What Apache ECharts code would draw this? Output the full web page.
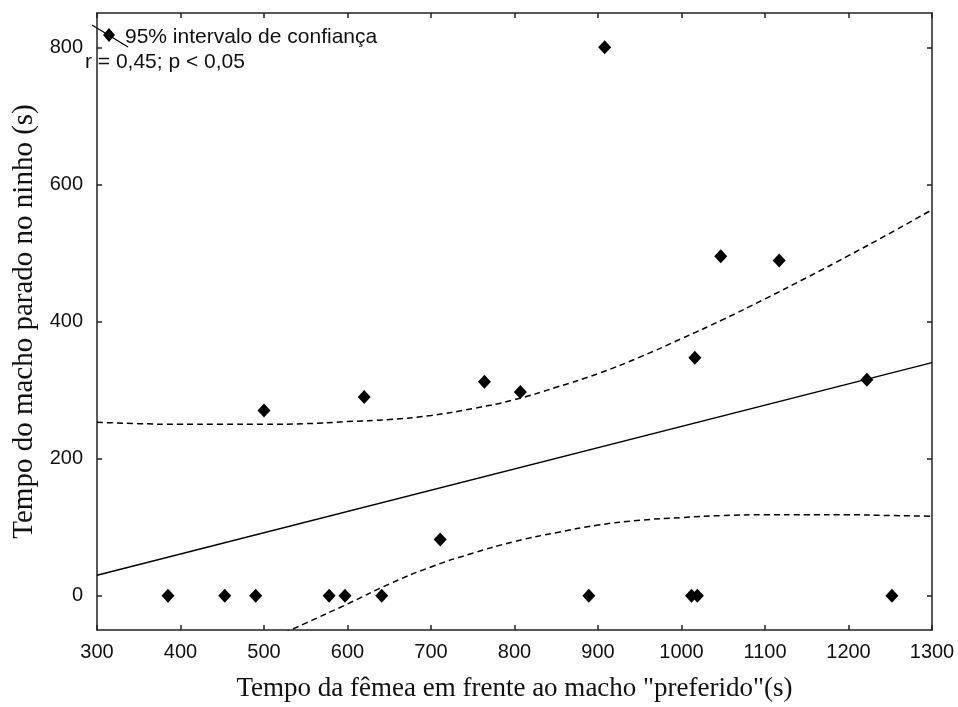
<!DOCTYPE html>
<html>
<head>
<meta charset="utf-8">
<title>Tempo do macho parado no ninho</title>
<script src="https://cdn.jsdelivr.net/npm/echarts@6/dist/echarts.min.js"></script>
<style>
  html, body { margin: 0; padding: 0; background: #fff; }
  #chart { width: 958px; height: 707px; }
</style>
</head>
<body>
<div id="chart"></div>
<script>
// dispersão: tempo da fêmea x tempo do macho, reta ajustada e IC 95%
const xTicks = [300, 400, 500, 600, 700, 800, 900, 1000, 1100, 1200, 1300]
const yTicks = [0, 200, 400, 600, 800]

// pontos observados (s)
const femaleTime = [385, 453, 490, 578, 597, 641, 889, 1012, 1019, 1252,
  500, 620, 711, 764, 807, 908, 1016, 1047, 1117, 1222]
const maleTime = [0, 0, 0, 0, 0, 0, 0, 0, 0, 0,
  270, 290, 82, 312, 297, 800, 347, 495, 489, 315]

// reta de regressão
const fitX = [300, 1300]
const fitY = [30, 340]

// limites do intervalo de confiança
const bandX = [300, 350, 400, 450, 500, 550, 600, 650, 700, 750, 800,
  850, 900, 950, 1000, 1050, 1100, 1150, 1200, 1250, 1300]
const bandUpper = [253, 251, 250, 250, 250, 251, 254, 257, 263, 273, 286,
  304, 324, 348, 375, 403, 433, 464, 496, 529, 563]
const bandLower = [-194, -162, -130, -99, -68, -40, -12, 17, 42, 62, 79,
  92, 103, 110, 114, 117, 118, 118, 118, 117, 116]

const zip = (a, b) => a.map((v, i) => [v, b[i]])

const frame = { show: true, onZero: false, lineStyle: { color: '#222', width: 1.5 } }
const ticks = { show: true, inside: true, length: 5, lineStyle: { color: '#222', width: 1.5 } }
const tickFont = { fontFamily: 'Liberation Sans', fontSize: 20, color: '#111', formatter: v => String(v) }
const legendFont = '21px "Liberation Sans"'

const chart = echarts.init(document.getElementById('chart'))

chart.setOption({
  animation: false,
  grid: { left: 97, right: 26, top: 13, bottom: 75 },
  xAxis: [{
    type: 'value',
    min: 300,
    max: 1300,
    interval: 100,
    position: 'bottom',
    axisLine: frame,
    axisTick: Object.assign({ customValues: xTicks }, ticks),
    axisLabel: Object.assign({ margin: 12, customValues: xTicks }, tickFont),
    splitLine: { show: false },
    name: 'Tempo da fêmea em frente ao macho "preferido"(s)',
    nameLocation: 'middle',
    nameGap: 45,
    nameTextStyle: { fontFamily: 'Liberation Serif', fontSize: 27, color: '#111' }
  }, {
    type: 'value',
    min: 300,
    max: 1300,
    interval: 100,
    position: 'top',
    axisLine: frame,
    axisTick: ticks,
    axisLabel: { show: false },
    splitLine: { show: false }
  }],
  yAxis: [{
    type: 'value',
    min: -50,
    max: 850,
    position: 'left',
    axisLine: frame,
    axisTick: Object.assign({ customValues: yTicks }, ticks),
    axisLabel: Object.assign({ margin: 14, customValues: yTicks }, tickFont),
    splitLine: { show: false },
    name: 'Tempo do macho parado no ninho (s)',
    nameLocation: 'middle',
    nameGap: 47,
    nameTextStyle: { fontFamily: 'Liberation Serif', fontSize: 29, color: '#111' }
  }, {
    type: 'value',
    min: -50,
    max: 850,
    position: 'right',
    axisLine: frame,
    axisTick: Object.assign({ customValues: yTicks }, ticks),
    axisLabel: { show: false },
    splitLine: { show: false }
  }],
  graphic: [
    // legenda: marcador cortado pela linha tracejada
    { type: 'line', shape: { x1: 92, y1: 25, x2: 128, y2: 47 }, style: { stroke: '#000', lineWidth: 1.2 } },
    { type: 'polygon', shape: { points: [[109, 28], [115, 35], [109, 42], [103, 35]] }, style: { fill: '#000' } },
    { type: 'text', x: 125, y: 37, style: { text: '95% intervalo de confiança', font: legendFont, fill: '#111', verticalAlign: 'middle' } },
    { type: 'text', x: 85, y: 62, style: { text: 'r = 0,45; p < 0,05', font: legendFont, fill: '#111', verticalAlign: 'middle' } }
  ],
  series: [{
    type: 'line',
    data: zip(bandX, bandUpper),
    showSymbol: false,
    smooth: true,
    lineStyle: { color: '#000', width: 1.5, type: [6, 4] }
  }, {
    type: 'line',
    data: zip(bandX, bandLower),
    showSymbol: false,
    smooth: true,
    lineStyle: { color: '#000', width: 1.5, type: [6, 4] }
  }, {
    type: 'line',
    data: zip(fitX, fitY),
    showSymbol: false,
    lineStyle: { color: '#000', width: 1.5 }
  }, {
    type: 'scatter',
    data: zip(femaleTime, maleTime),
    symbol: 'diamond',
    symbolSize: [13, 14],
    itemStyle: { color: '#000', opacity: 1 }
  }]
})
</script>
</body>
</html>
